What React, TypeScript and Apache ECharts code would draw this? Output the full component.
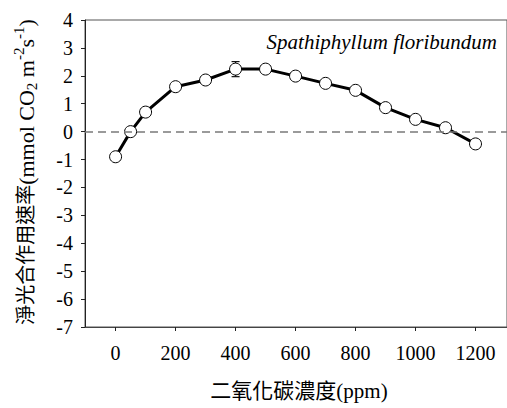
import React, { useEffect, useRef } from "react";
import * as echarts from "echarts";

const co2 = [0, 50, 100, 200, 300, 400, 500, 600, 700, 800, 900, 1000, 1100, 1200];
const netRate = [-0.9, 0.0, 0.7, 1.61, 1.85, 2.24, 2.24, 1.99, 1.73, 1.48, 0.86, 0.44, 0.14, -0.44];
const errBars = [[400, 2.24, 0.27]];
const xTicks = [0, 200, 400, 600, 800, 1000, 1200];
const speciesName = "Spathiphyllum floribundum";
const xName = "二氧化碳濃度(ppm)";
// y-axis title pieces: text, kind (c = CJK, n = normal, b = sub, p = super), leading space
const yNameParts: [string, string, boolean][] = [
  ["淨光合作用速率", "c", false],
  ["(mmol CO", "n", false],
  ["2", "b", false],
  ["m", "n", true],
  ["-2", "p", false],
  ["s", "n", false],
  ["-1", "p", false],
  [")", "n", false],
];

const SERIF = "Liberation Serif";
const CSS = `svg text, svg tspan { font-family: "Liberation Serif", "Noto Sans CJK TC", serif !important; }`;

export default function App() {
  const ref = useRef<HTMLDivElement>(null);
  useEffect(() => {
    if (!ref.current) return;
    document.body.style.margin = "0";
    const cv = document.createElement("canvas").getContext("2d")!;
    const measure = (t: string, s: number) => {
      cv.font = `${s}px ${SERIF}`;
      return cv.measureText(t).width;
    };
    const sizeOf: Record<string, number> = { c: 20, n: 22, b: 15, p: 15 };
    const dyOf: Record<string, number> = { c: 0, n: 0, b: 6, p: -7 };
    let off = 0;
    const pieces: any[] = [];
    yNameParts.forEach(([t, k, sp]) => {
      const s = sizeOf[k];
      if (sp) off += measure(" ", 22);
      pieces.push({ t, s, x: off, y: dyOf[k] });
      off += measure(t, s);
    });
    const total = off;
    const yNameChildren = pieces.map((p) => ({
      type: "text",
      x: p.x - total / 2,
      y: p.y,
      style: {
        text: p.t,
        fontSize: p.s,
        fontFamily: SERIF,
        fill: "#000",
        align: "left",
        verticalAlign: "middle",
      },
    }));

    const chart = echarts.init(ref.current, null, { renderer: "svg" });
    chart.setOption({
      animation: false,
      grid: {
        left: 85,
        top: 20,
        right: -5,
        bottom: 81,
        show: true,
        borderColor: "#555",
        borderWidth: 1,
        containLabel: false,
      },
      xAxis: {
        type: "value",
        min: -102,
        max: 1305,
        splitLine: { show: false },
        axisLine: { show: true, onZero: false, lineStyle: { color: "#444", width: 1 } },
        axisTick: { show: true, length: 4, customValues: xTicks, lineStyle: { color: "#222" } },
        axisLabel: {
          customValues: xTicks,
          formatter: (v: number) => String(v),
          color: "#000",
          fontSize: 20,
          fontFamily: SERIF,
          margin: 16,
        },
      },
      yAxis: {
        type: "value",
        min: -7,
        max: 4,
        interval: 1,
        splitLine: { show: false },
        axisLine: { show: true, onZero: false, lineStyle: { color: "#222", width: 1 } },
        axisTick: { show: true, length: 4, lineStyle: { color: "#222" } },
        axisLabel: { color: "#000", fontSize: 20, fontFamily: SERIF, margin: 12 },
      },
      graphic: [
        {
          type: "text",
          right: 10,
          top: 31,
          style: {
            text: speciesName,
            fontStyle: "italic",
            fontSize: 21,
            fontFamily: SERIF,
            fill: "#000",
          },
        },
        {
          type: "text",
          x: 299,
          y: 391,
          style: {
            text: xName,
            fontSize: 21,
            fontFamily: SERIF,
            fill: "#000",
            align: "center",
            verticalAlign: "middle",
          },
        },
        {
          type: "group",
          x: 26,
          y: 172,
          rotation: Math.PI / 2,
          children: yNameChildren,
        },
      ],
      series: [
        {
          type: "custom",
          z: 1,
          data: errBars,
          renderItem: (params: any, api: any) => {
            const x = api.value(0);
            const y = api.value(1);
            const e = api.value(2);
            const top = api.coord([x, y + e]);
            const bot = api.coord([x, y - e]);
            const w = 4;
            const st = { stroke: "#111", lineWidth: 1.2 };
            return {
              type: "group",
              children: [
                { type: "line", shape: { x1: top[0], y1: top[1], x2: bot[0], y2: bot[1] }, style: st },
                { type: "line", shape: { x1: top[0] - w, y1: top[1], x2: top[0] + w, y2: top[1] }, style: st },
                { type: "line", shape: { x1: bot[0] - w, y1: bot[1], x2: bot[0] + w, y2: bot[1] }, style: st },
              ],
            };
          },
          markLine: {
            silent: true,
            symbol: "none",
            label: { show: false },
            lineStyle: { color: "#7a7a7a", type: [8, 5], width: 1.5 },
            data: [{ yAxis: 0 }],
          },
        },
        {
          type: "line",
          z: 3,
          data: co2.map((c, i) => [c, netRate[i]]),
          symbol: "circle",
          symbolSize: 12,
          lineStyle: { color: "#000", width: 3 },
          itemStyle: { color: "#fff", borderColor: "#000", borderWidth: 1 },
        },
      ],
    });
    return () => chart.dispose();
  }, []);
  return (
    <>
      <style>{CSS}</style>
      <div ref={ref} style={{ width: 507, height: 408 }} />
    </>
  );
}
